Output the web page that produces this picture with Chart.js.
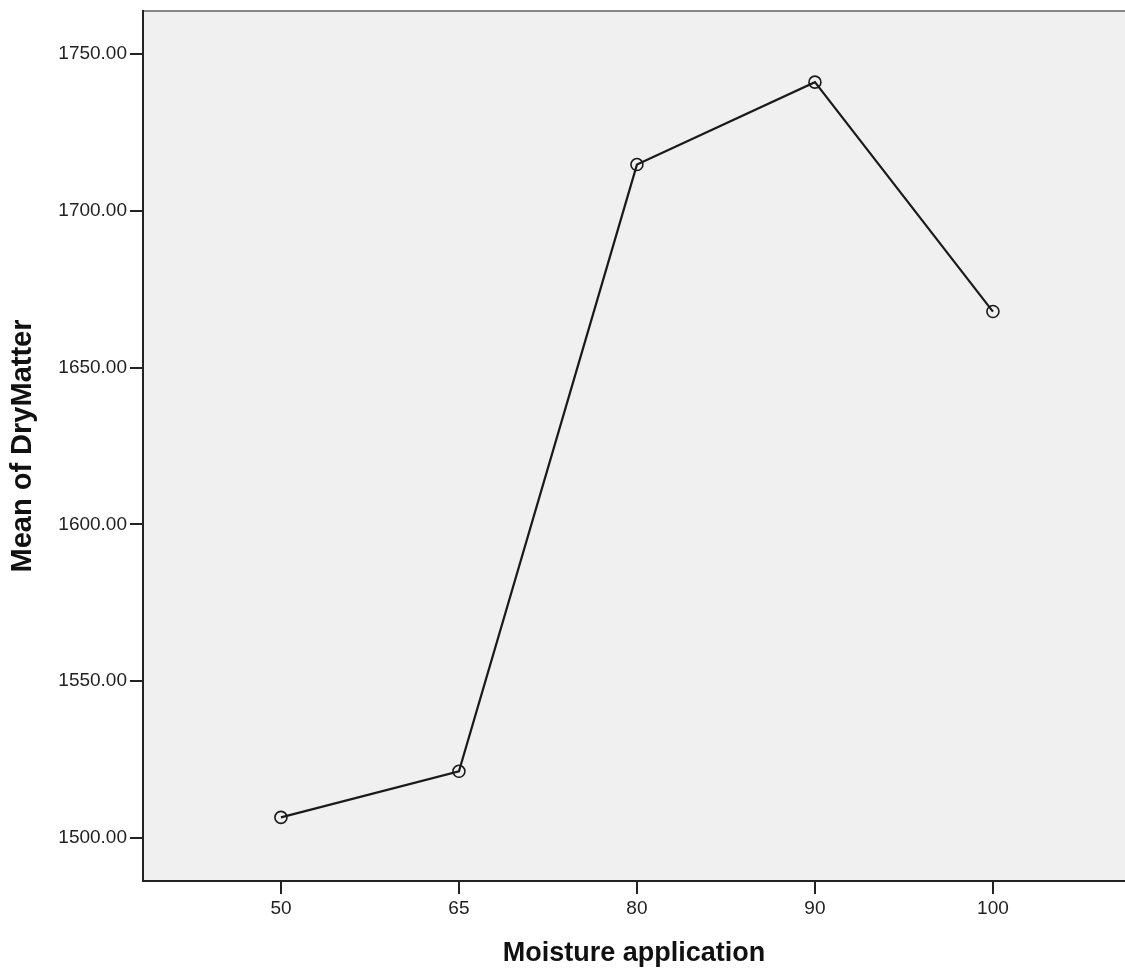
<!DOCTYPE html>
<html>
<head>
<meta charset="utf-8">
<title>Mean of DryMatter</title>
<script src="https://cdn.jsdelivr.net/npm/chart.js@4/dist/chart.umd.min.js"></script>
<style>
    html, body { margin: 0; padding: 0; background: #fff; }
    canvas { display: block; }
</style>
</head>
<body>
<canvas id="dryMatterChart" width="1125" height="972"></canvas>
<script>
// Moyennes de matière sèche par niveau d'humidité
const moistureLevels = ['50', '65', '80', '90', '100'];
const dryMatterMeans = [1506.5, 1521.2, 1714.8, 1741.1, 1667.9];
const yTickValues = [1500, 1550, 1600, 1650, 1700, 1750];

const FONT = '"Liberation Sans", Arial, sans-serif';

// fond gris de la zone de tracé + bordure supérieure
const plotBackground = {
    id: 'plotBackground',
    beforeDraw(chart) {
        const { ctx, chartArea: a } = chart;
        ctx.save();
        ctx.fillStyle = '#f0f0f0';
        ctx.fillRect(a.left, a.top, a.right - a.left, a.bottom - a.top);
        ctx.strokeStyle = '#878787';
        ctx.lineWidth = 2;
        ctx.beginPath();
        ctx.moveTo(a.left, a.top);
        ctx.lineTo(a.right, a.top);
        ctx.stroke();
        ctx.restore();
    }
};

// pas de marge automatique autour des axes
function noPadding(scale) {
    scale.paddingTop = 0;
    scale.paddingBottom = 0;
    scale.paddingLeft = 0;
    scale.paddingRight = 0;
}

const ctx = document.getElementById('dryMatterChart');

new Chart(ctx, {
    type: 'line',
    data: {
        datasets: [{
            data: dryMatterMeans.map((v, i) => ({ x: i, y: v })),
            borderColor: '#1a1a1a',
            borderWidth: 2.2,
            pointRadius: 6,
            pointHoverRadius: 6,
            pointBorderWidth: 1.6,
            pointBorderColor: '#1a1a1a',
            pointBackgroundColor: 'rgba(0,0,0,0)',
            tension: 0,
            fill: false
        }]
    },
    options: {
        responsive: false,
        animation: false,
        layout: {
            autoPadding: false,
            padding: { top: 11, right: 0, bottom: 0, left: 0 }
        },
        plugins: {
            legend: { display: false },
            tooltip: { enabled: false }
        },
        scales: {
            x: {
                type: 'linear',
                min: -0.775,
                max: 4.742,
                afterBuildTicks(scale) {
                    scale.ticks = moistureLevels.map((_, i) => ({ value: i }));
                },
                afterFit(scale) {
                    scale.height = 91;
                    noPadding(scale);
                },
                ticks: {
                    color: '#222',
                    font: { family: FONT, size: 19 },
                    padding: 3,
                    maxRotation: 0,
                    callback: (v) => moistureLevels[v]
                },
                grid: {
                    drawOnChartArea: false,
                    tickLength: 13,
                    lineWidth: 2,
                    color: '#222'
                },
                border: { color: '#222', width: 2 },
                title: {
                    display: true,
                    text: 'Moisture application',
                    color: '#111',
                    font: { family: FONT, size: 27, weight: 'bold' },
                    padding: { top: 0, bottom: 2 }
                }
            },
            y: {
                min: 1486.2,
                max: 1763.8,
                afterBuildTicks(scale) {
                    scale.ticks = yTickValues.map(v => ({ value: v }));
                },
                afterFit(scale) {
                    scale.width = 143;
                    noPadding(scale);
                },
                ticks: {
                    color: '#222',
                    font: { family: FONT, size: 19 },
                    padding: 3,
                    callback: (v) => v.toFixed(2)
                },
                grid: {
                    drawOnChartArea: false,
                    tickLength: 13,
                    lineWidth: 2,
                    color: '#222'
                },
                border: { color: '#222', width: 2 },
                title: {
                    display: true,
                    text: 'Mean of DryMatter',
                    color: '#111',
                    font: { family: FONT, size: 29, weight: 'bold' },
                    padding: { top: 6, bottom: 0 }
                }
            }
        }
    },
    plugins: [plotBackground]
});
</script>
</body>
</html>
